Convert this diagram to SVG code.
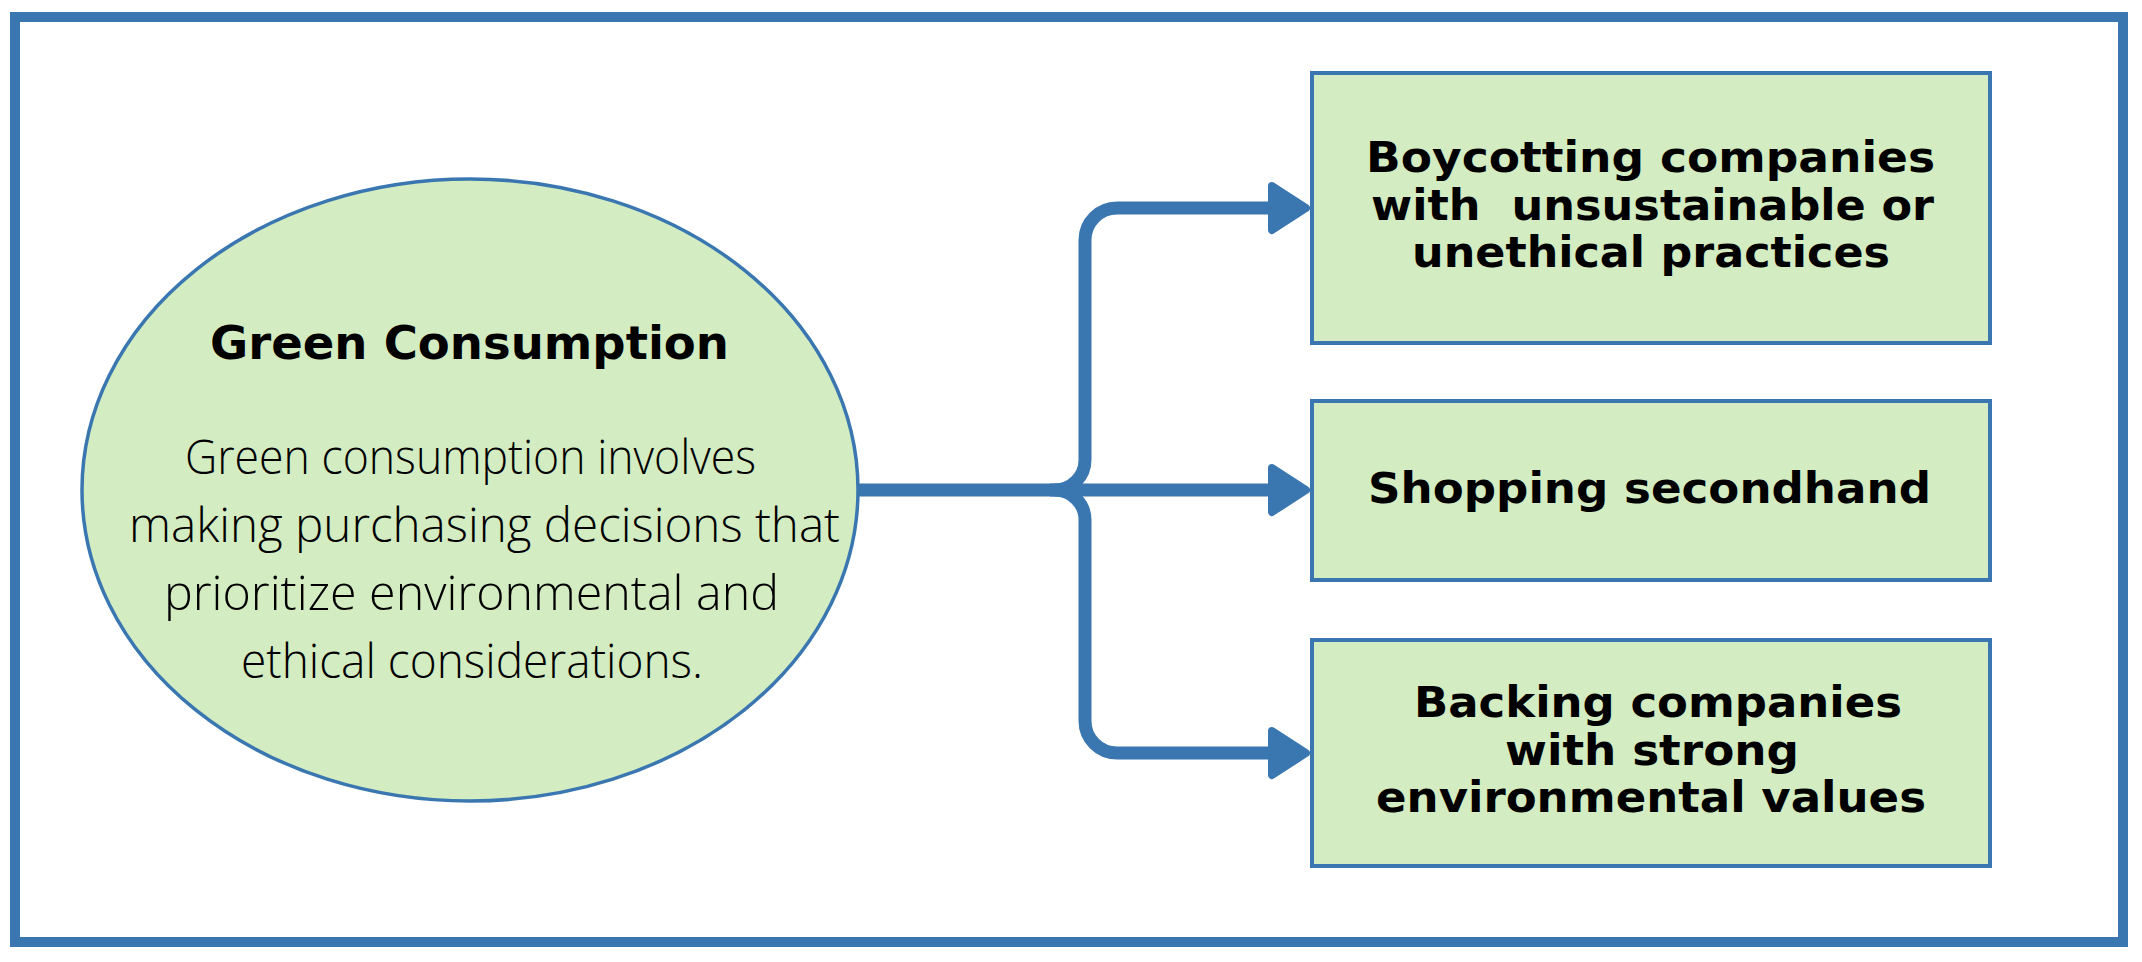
<svg xmlns="http://www.w3.org/2000/svg" width="2142" height="962" viewBox="0 0 2142 962">
  <style>
    .frame { fill: #ffffff; stroke: #3a77b1; stroke-width: 10; }
    .node { fill: #d3ecc2; stroke: #3a77b1; stroke-width: 4; }
    .ell { fill: #d3ecc2; stroke: #3a77b1; stroke-width: 3.5; }
    .conn { fill: none; stroke: #3a77b1; stroke-width: 13; stroke-linecap: butt; }
    .head { fill: #3a77b1; stroke: #3a77b1; stroke-width: 8; stroke-linejoin: round; }
    .title { font-family: "DejaVu Sans", Verdana, sans-serif; font-weight: bold; font-size: 47px; fill: #000; }
    .lbl { font-family: "DejaVu Sans", Verdana, sans-serif; font-weight: bold; font-size: 42px; fill: #000; }
    .hand { font-family: "Open Sans", "Noto Sans", sans-serif; font-weight: 300; font-size: 48px; fill: #000; }
  </style>
  <defs>
    <marker id="arrow" markerUnits="userSpaceOnUse" viewBox="-6 -30 50 60" markerWidth="50" markerHeight="60" refX="0" refY="0" orient="auto" overflow="visible">
      <path class="head" d="M0,-22 L34,0 L0,22 Z"/>
    </marker>
  </defs>

  <rect id="frame" class="frame" x="15" y="17" width="2108" height="925"/>

  <g id="connectors">
    <path class="conn" d="M858,490 H1055 A30,30 0 0 0 1085,460 V240 A32,32 0 0 1 1117,208 H1272" marker-end="url(#arrow)"/>
    <path class="conn" d="M1050,490 H1272" marker-end="url(#arrow)"/>
    <path class="conn" d="M1055,490 A30,30 0 0 1 1085,520 V721 A32,32 0 0 0 1117,753 H1272" marker-end="url(#arrow)"/>
  </g>

  <g id="green-consumption">
    <ellipse class="ell" cx="470" cy="490" rx="388" ry="311"/>
    <text class="title" x="210" y="359" textLength="519" lengthAdjust="spacingAndGlyphs">Green Consumption</text>
    <text class="hand" x="185" y="474" textLength="571" lengthAdjust="spacingAndGlyphs">Green consumption involves</text>
    <text class="hand" x="129" y="542" textLength="711" lengthAdjust="spacingAndGlyphs">making purchasing decisions that</text>
    <text class="hand" x="164" y="610" textLength="615" lengthAdjust="spacingAndGlyphs">prioritize environmental and</text>
    <text class="hand" x="241" y="678" textLength="462" lengthAdjust="spacingAndGlyphs">ethical considerations.</text>
  </g>

  <g id="boycotting">
    <rect class="node" x="1312" y="73" width="678" height="270"/>
    <text class="lbl" x="1366" y="172" textLength="569" lengthAdjust="spacingAndGlyphs">Boycotting companies</text>
    <text class="lbl" x="1371" y="220" textLength="563" lengthAdjust="spacingAndGlyphs" xml:space="preserve">with  unsustainable or</text>
    <text class="lbl" x="1412" y="267" textLength="478" lengthAdjust="spacingAndGlyphs">unethical practices</text>
  </g>

  <g id="secondhand">
    <rect class="node" x="1312" y="401" width="678" height="179"/>
    <text class="lbl" x="1368" y="503" textLength="563" lengthAdjust="spacingAndGlyphs">Shopping secondhand</text>
  </g>

  <g id="backing">
    <rect class="node" x="1312" y="640" width="678" height="226"/>
    <text class="lbl" x="1414" y="717" textLength="488" lengthAdjust="spacingAndGlyphs">Backing companies</text>
    <text class="lbl" x="1505" y="765" textLength="294" lengthAdjust="spacingAndGlyphs">with strong</text>
    <text class="lbl" x="1376" y="812" textLength="550" lengthAdjust="spacingAndGlyphs">environmental values</text>
  </g>
</svg>
